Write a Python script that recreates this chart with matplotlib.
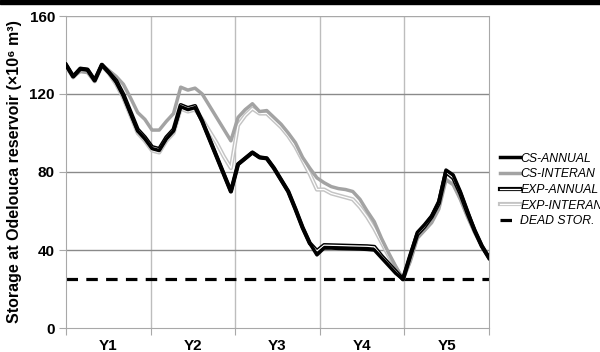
import numpy as np
import matplotlib
matplotlib.use('Agg')
import matplotlib.pyplot as plt
import matplotlib.patheffects as pe
from matplotlib.patches import Rectangle

plt.rcParams['font.family'] = ['Liberation Sans', 'DejaVu Sans']

# monthly storage (hm3), five hydrological years
years = ['Y1', 'Y2', 'Y3', 'Y4', 'Y5']
months = np.arange(60)

cs_annual = [135, 129, 133, 132.5, 127, 135, 131, 126, 119, 110, 101, 97,
             92, 91, 97, 101, 113.5, 112, 113, 106, 97, 88, 79, 70,
             84, 87, 90, 87.5, 87, 82, 76, 70, 61, 51.5, 43.5, 37.5,
             41, 41, 40.8, 40.7, 40.6, 40.5, 40.3, 40, 36, 32, 28, 25,
             37, 49, 53, 57.5, 65, 81, 78.5, 70, 60, 50, 42, 36]
cs_interan = [135, 129, 131.5, 131, 126.5, 135, 132, 129, 125, 118, 110.5, 107,
              101.5, 101.5, 106, 110, 123.5, 122, 123, 120, 114, 108, 102, 96,
              108, 112, 115, 111, 111.5, 108, 104.5, 100, 95, 87.5, 82, 77,
              74.5, 72.5, 71.5, 71, 70, 66, 60, 54.5, 46, 38.5, 31.5, 25,
              34, 46, 50, 54, 61, 76, 73.5, 66, 57, 49, 42, 36]
exp_annual = [135, 129, 133, 132.5, 127, 135, 131, 126.8, 119.8, 110.8, 101.8, 97.8,
              92.8, 91.8, 97.8, 101.8, 114.3, 112.8, 113.8, 106, 97, 88, 79, 70,
              84, 87, 90, 87.5, 87, 82, 76, 70, 61, 51.5, 43.5, 39.5,
              42.5, 42.4, 42.3, 42.2, 42.1, 42, 41.9, 41.6, 37, 33, 29, 25,
              37, 48, 52, 57, 64, 80, 77, 69, 59, 50, 42, 36]
exp_interan = [134.5, 128.5, 132.5, 132, 126.5, 134.5, 130.5, 125, 118, 109, 100, 96,
               91, 90, 96, 100, 112.5, 111, 112, 107, 101, 95, 88, 82,
               104, 109, 112.5, 110, 110, 106.5, 103, 98.5, 93, 86, 79, 71,
               71, 69, 68, 67, 66, 62, 57, 51, 44, 37, 31, 25,
               35, 47, 50.5, 55, 63, 78, 75, 67, 58, 49.5, 42, 36]
dead_storage = 25

fig = plt.figure(figsize=(6.0, 3.52), dpi=100)
fig.patch.set_facecolor('white')
ax = fig.add_axes([66 / 600, 1 - 328 / 352, 423 / 600, 312 / 352])

n_last = months[-1]
bounds = [n_last / 5 * k for k in range(6)]
centres = [(bounds[k] + bounds[k + 1]) / 2 for k in range(5)]

for b in bounds[1:-1]:
    ax.axvline(b, color='#bdbdbd', lw=1.0, zorder=1)
for yv in [40, 80, 120]:
    ax.axhline(yv, color='#8a8a8a', lw=1.0, zorder=1)
ax.axhline(160, color='#a8a8a8', lw=1.0, zorder=1)

l_dead, = ax.plot(months, [dead_storage] * len(months), color='black', lw=2.3,
                  ls=(0, (3.6, 2.6)), zorder=2)
l_expi, = ax.plot(months, exp_interan, color='white', lw=0.9, zorder=3,
                  path_effects=[pe.Stroke(linewidth=3.0, foreground='#c4c4c4'), pe.Normal()])
l_csi, = ax.plot(months, cs_interan, color='#a3a3a3', lw=2.5, zorder=4)
l_expa, = ax.plot(months, exp_annual, color='white', lw=0.9, zorder=5,
                  path_effects=[pe.Stroke(linewidth=3.0, foreground='black'), pe.Normal()])
l_csa, = ax.plot(months, cs_annual, color='black', lw=2.5, zorder=6)

ax.set_xlim(0, n_last)
ax.set_ylim(0, 160)
ax.set_yticks([0, 40, 80, 120, 160])
ax.set_xticks(bounds)
ax.set_xticklabels([])
ax.set_xticks(centres, minor=True)
ax.set_xticklabels(years, minor=True, fontsize=11, fontweight='bold')
ax.tick_params(axis='x', which='major', direction='out', length=5, color='#a8a8a8')
ax.tick_params(axis='x', which='minor', length=0, pad=8)
ax.tick_params(axis='y', direction='out', length=5, color='#a8a8a8', pad=3)
for t in ax.get_yticklabels():
    t.set_fontsize(11)
    t.set_fontweight('bold')

for s in ['left', 'bottom', 'right']:
    ax.spines[s].set_color('#a8a8a8')
ax.spines['top'].set_visible(False)

ax.set_ylabel('Storage at Odelouca reservoir (×10⁶ m³)', fontsize=11.5,
              fontweight='bold', labelpad=5)

fig.legend([l_csa, l_csi, l_expa, l_expi, l_dead],
           ['CS-ANNUAL', 'CS-INTERAN', 'EXP-ANNUAL', 'EXP-INTERAN', 'DEAD STOR.'],
           loc='center left', bbox_to_anchor=(500 / 600, 1 - 190 / 352),
           frameon=False, handlelength=1.65, handletextpad=0.02, labelspacing=0.3,
           borderaxespad=0, borderpad=0, prop={'size': 8.8, 'style': 'italic'})

# thin black band along the top edge
fig.add_artist(Rectangle((0, 1 - 3.5 / 352), 1, 3.5 / 352, transform=fig.transFigure,
                         color='black', zorder=10))

fig.savefig('out.png', dpi=100)
